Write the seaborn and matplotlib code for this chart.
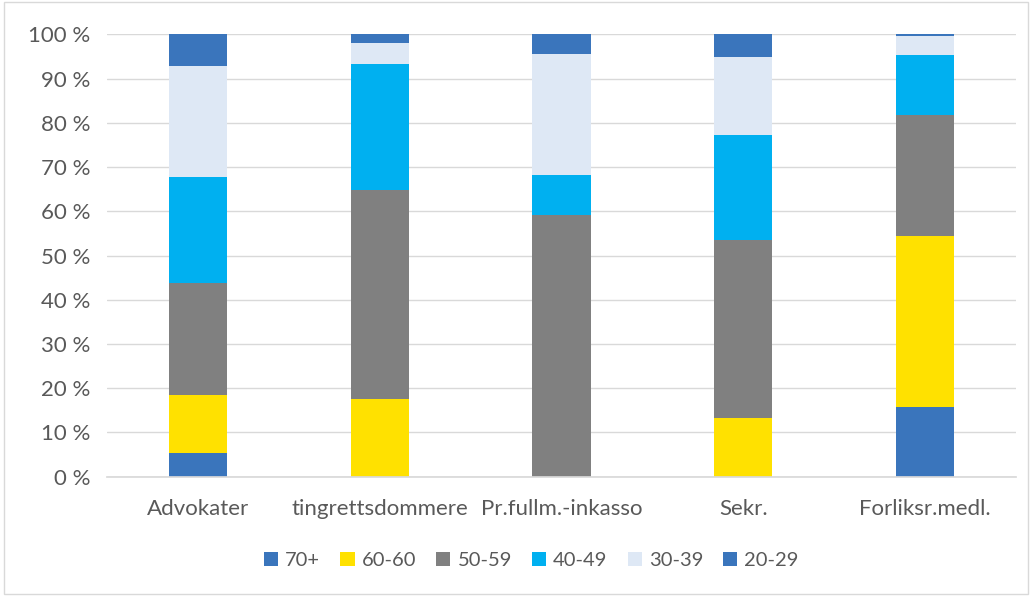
import numpy as np
import pandas as pd
import matplotlib
matplotlib.use("Agg")
import matplotlib.pyplot as plt
import seaborn as sns
from matplotlib.patches import Rectangle

categories = ["Advokater", "tingrettsdommere", "Pr.fullm.-inkasso", "Sekr.", "Forliksr.medl."]
series_names = ["70+", "60-60", "50-59", "40-49", "30-39", "20-29"]
v_70 = [5.3, 0.0, 0.0, 0.0, 15.8]
v_60 = [13.2, 17.6, 0.0, 13.3, 38.5]
v_50 = [25.2, 47.2, 59.1, 40.2, 27.5]
v_40 = [24.0, 28.6, 9.0, 23.7, 13.6]
v_30 = [25.2, 4.7, 27.4, 17.6, 4.3]
v_20 = [7.1, 1.9, 4.5, 5.2, 0.3]
colors = ["#3A75BC", "#FFE100", "#808080", "#00B0F0", "#DEE8F5", "#3A75BC"]
y_ticks = [0, 10, 20, 30, 40, 50, 60, 70, 80, 90, 100]

sns.set_theme(style="white")
plt.rcParams["font.family"] = ["Lato", "DejaVu Sans"]

fig = plt.figure(figsize=(10.32, 5.96), dpi=100)
ax = fig.add_axes([0.1037, 0.2002, 0.8808, 0.7422])

values = [v_70, v_60, v_50, v_40, v_30, v_20]
bottom = np.zeros(len(categories))
for name, vals, col in zip(series_names, values, colors):
    df = pd.DataFrame({"cat": categories, "val": vals})
    sns.barplot(data=df, x="cat", y="val", color=col, bottom=bottom,
                width=0.32, label=name, ax=ax, linewidth=0, saturation=1)
    bottom = bottom + np.array(vals)

handles, labels = ax.get_legend_handles_labels()
if ax.get_legend() is not None:
    ax.get_legend().remove()

ax.set_ylim(0, 100)
ax.set_xlim(-0.5, len(categories) - 0.5)
ax.set_yticks(y_ticks)
ax.set_yticklabels([f"{t} %" for t in y_ticks])
ax.yaxis.grid(True, color="#D9D9D9", linewidth=1)
ax.set_axisbelow(True)
for s in ["top", "right", "left"]:
    ax.spines[s].set_visible(False)
ax.spines["bottom"].set_color("#D9D9D9")
ax.set_xlabel("")
ax.set_ylabel("")
ax.tick_params(axis="both", length=0, labelsize=16, colors="#595959", pad=12)
ax.tick_params(axis="x", pad=16)

leg = fig.legend(handles, labels, loc="center", bbox_to_anchor=(0.515, 0.06), ncol=6,
                 frameon=False, fontsize=14.5, handlelength=0.7, handleheight=0.7,
                 columnspacing=1.0, handletextpad=0.35)
for t in leg.get_texts():
    t.set_color("#595959")

fig.patches.append(Rectangle((0.004, 0.004), 0.992, 0.992, transform=fig.transFigure,
                             fill=False, edgecolor="#D9D9D9", linewidth=1))

fig.savefig("out.png", dpi=100, facecolor="white")
